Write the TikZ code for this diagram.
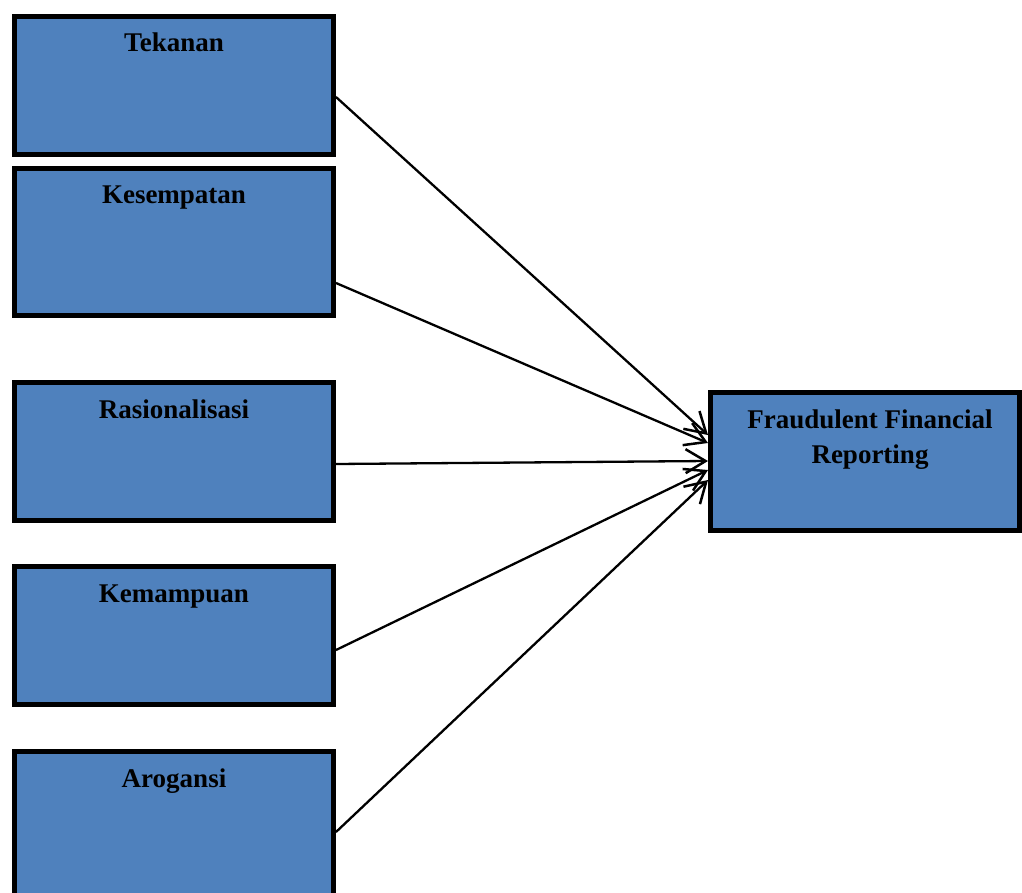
\documentclass[tikz,border=0pt]{standalone}
\usepackage{fontspec}
\setmainfont{Liberation Serif}
\usetikzlibrary{arrows.meta,calc}
\definecolor{boxblue}{HTML}{4F81BD}
\tikzset{
  factor/.style={draw=black, fill=boxblue, line width=5pt, inner sep=0pt,
    minimum width=319pt, minimum height=138pt},
  lbl/.style={font=\fontsize{27}{35}\selectfont\bfseries, inner sep=0pt, anchor=base, align=center},
  arr/.style={line width=2.3pt, -{Straight Barb[length=20pt,width=24pt,line width=2.5pt]}}
}
\begin{document}
\begin{tikzpicture}[x=1pt,y=-1pt]
\useasboundingbox (0,0) rectangle (1022,893);
\clip (0,0) rectangle (1022,893);
\node[factor] (tek) at (174,85.5) {};
\node[factor, minimum height=147pt] (kes) at (174,242) {};
\node[factor] (ras) at (174,451.5) {};
\node[factor] (kem) at (174,635.5) {};
\node[factor, minimum height=170pt] (aro) at (174,836.5) {};
\node[factor, minimum width=309pt] (fr) at (865,461.5) {};

\node[lbl] (tekT) at ($(tek.north)+(0,38)$) {Tekanan};
\node[lbl] (kesT) at ($(kes.north)+(0,38)$) {Kesempatan};
\node[lbl] (rasT) at ($(ras.north)+(0,38)$) {Rasionalisasi};
\node[lbl] (kemT) at ($(kem.north)+(0,38)$) {Kemampuan};
\node[lbl] (aroT) at ($(aro.north)+(0,38)$) {Arogansi};
\node[lbl] (frT) at ($(fr.north)+(5,73)$) {Fraudulent Financial\\Reporting};

\draw[arr] ($(tek.east)+(0,11.5)$) -- ($(fr.west)+(0,-26.5)$);
\draw[arr] ($(kes.east)+(0,41)$) -- ($(fr.west)+(0,-18.5)$);
\draw[arr] ($(ras.east)+(0,12.5)$) -- ($(fr.west)+(0,-0.5)$);
\draw[arr] ($(kem.east)+(0,14.5)$) -- ($(fr.west)+(0,8.5)$);
\draw[arr] ($(aro.east)+(0,-4.5)$) -- ($(fr.west)+(0,18.5)$);
\end{tikzpicture}
\end{document}
